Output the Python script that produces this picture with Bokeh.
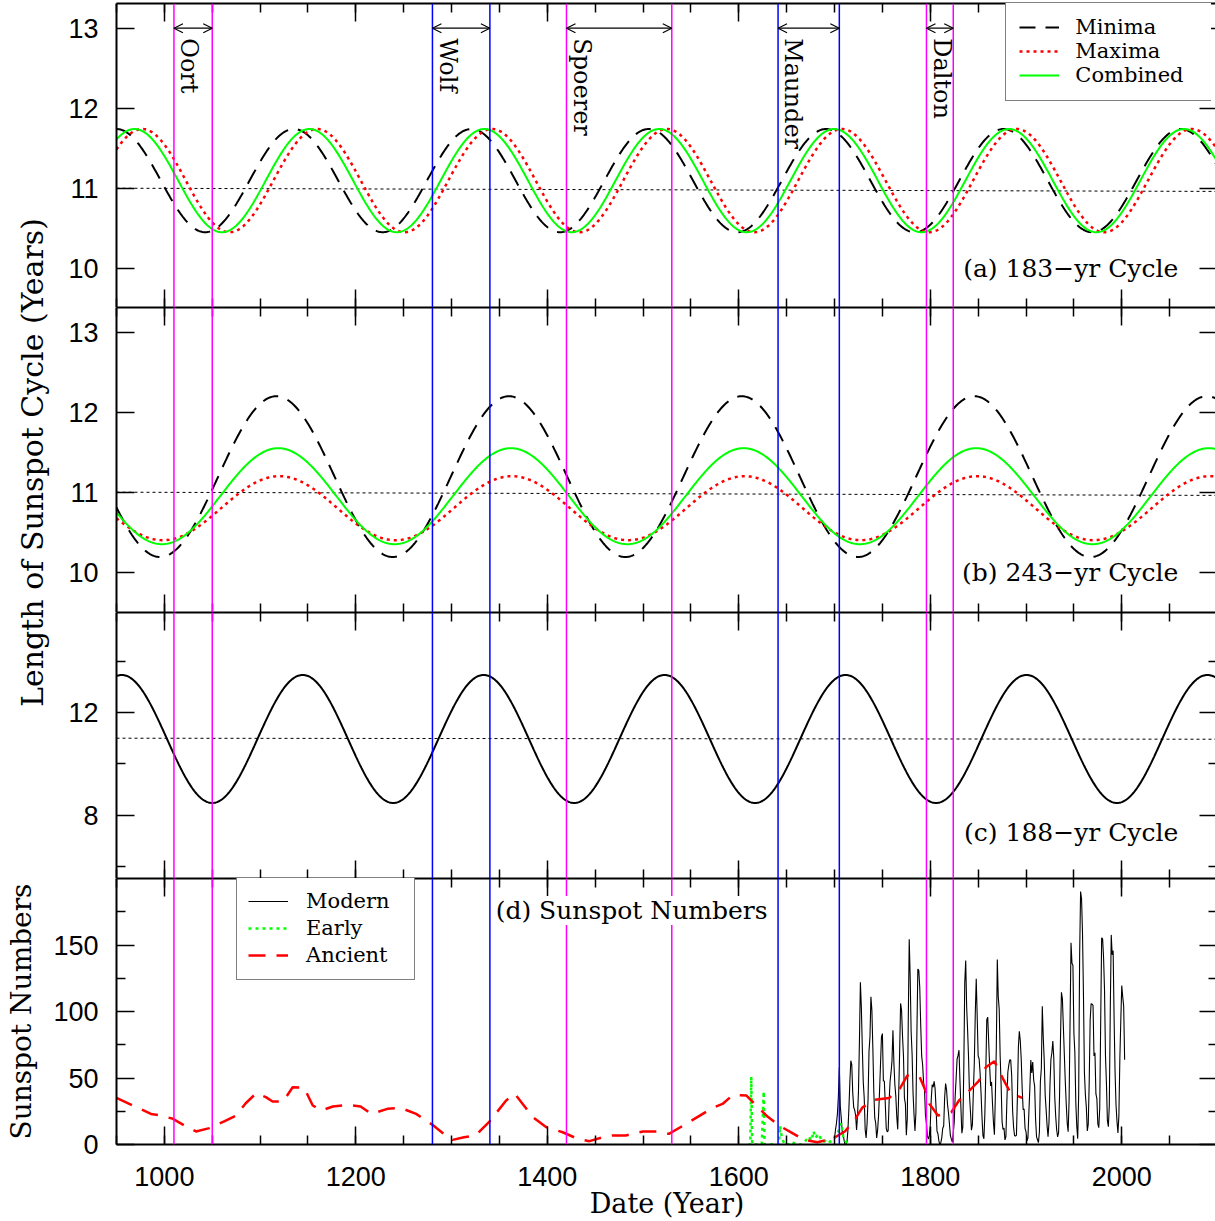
import numpy as np
from bokeh.plotting import figure
from bokeh.models import (Range1d, LinearAxis, SingleIntervalTicker, FixedTicker,
                          Span, Label, Legend, LegendItem, Arrow, OpenHead, ColumnDataSource)
from bokeh.layouts import row, column
from bokeh.embed import file_html
from bokeh.resources import INLINE

# ---------------- data ----------------
x_limits = [950, 2100]

minimum_names = ["Oort", "Wolf", "Spoerer", "Maunder", "Dalton"]
minimum_start = [1010, 1280, 1420, 1641, 1796]
minimum_end = [1050, 1340, 1530, 1705, 1824]

series_a_labels = ["Minima", "Maxima", "Combined"]
# sinusoid fits: period (yr), year of a peak, mean (yr), amplitude (yr)
cycle_a_period = [185.3, 182.7, 182.7]
cycle_a_peak = [950.0, 976.8, 968.8]
cycle_a_mean = [11.095, 11.095, 11.095]
cycle_a_amp = [0.645, 0.645, 0.645]

cycle_b_period = [243.0, 243.0, 243.0]
cycle_b_peak = [1117.0, 1120.0, 1119.0]
cycle_b_mean = [11.195, 10.80, 10.95]
cycle_b_amp = [1.005, 0.40, 0.60]

cycle_c_period = 189.0
cycle_c_peak = 955.5
cycle_c_mean = 10.97
cycle_c_amp = 2.5

mean_line_years = [950, 2100]
mean_line_values = [11.0, 10.96]

yticks_ab = [10, 11, 12, 13]
yticks_c = [8, 12]
yminor_c = [6, 10, 14]
yticks_d = [0, 50, 100, 150]
yminor_d = [25, 75, 125, 175]

series_d_labels = ["Modern", "Early", "Ancient"]

modern_first_year = 1700
modern_values = [
    5, 11, 16, 23, 36, 58, 29, 20, 10, 8, 3, 0, 0, 2, 11, 27, 47, 63, 60, 39,
    28, 26, 22, 11, 21, 40, 78, 122, 103, 73, 47, 35, 11, 5, 16, 34, 70, 81, 111, 101,
    73, 40, 20, 16, 5, 11, 22, 40, 60, 80.9, 83.4, 47.7, 47.8, 30.7, 12.2, 9.6, 10.2, 32.4, 47.6, 54.0,
    62.9, 85.9, 61.2, 45.1, 36.4, 20.9, 11.4, 37.8, 69.8, 106.1, 100.8, 81.6, 66.5, 34.8, 30.6, 7.0, 19.8, 92.5, 154.4, 125.9,
    84.8, 68.1, 38.5, 22.8, 10.2, 24.1, 82.9, 132.0, 130.9, 118.1, 89.9, 66.6, 60.0, 46.9, 41.0, 21.3, 16.0, 6.4, 4.1, 6.8,
    14.5, 34.0, 45.0, 43.1, 47.5, 42.2, 28.1, 10.1, 8.1, 2.5, 0.0, 1.4, 5.0, 12.2, 13.9, 35.4, 45.8, 41.1, 30.1, 23.9,
    15.6, 6.6, 4.0, 1.8, 8.5, 16.6, 36.3, 49.6, 64.2, 67.0, 70.9, 47.8, 27.5, 8.5, 13.2, 56.9, 121.5, 138.3, 103.2, 85.7,
    64.6, 36.7, 24.2, 10.7, 15.0, 40.1, 61.5, 98.5, 124.7, 96.3, 66.6, 64.5, 54.1, 39.0, 20.6, 6.7, 4.3, 22.7, 54.8, 93.8,
    95.8, 77.2, 59.1, 44.0, 47.0, 30.5, 16.3, 7.3, 37.6, 74.0, 139.0, 111.2, 101.6, 66.2, 44.7, 17.0, 11.3, 12.4, 3.4, 6.0,
    32.3, 54.3, 59.7, 63.7, 63.5, 52.2, 25.4, 13.1, 6.8, 6.3, 7.1, 35.6, 73.0, 85.1, 78.0, 64.0, 41.8, 26.2, 26.7, 12.1,
    9.5, 2.7, 5.0, 24.4, 42.0, 63.5, 53.8, 62.0, 48.5, 43.9, 18.6, 5.7, 3.6, 1.4, 9.6, 47.4, 57.1, 103.9, 80.6, 63.6,
    37.6, 26.1, 14.2, 5.8, 16.7, 44.3, 63.9, 69.0, 77.8, 64.9, 35.7, 21.2, 11.1, 5.7, 8.7, 36.1, 79.7, 114.4, 109.6, 88.8,
    67.8, 47.5, 30.6, 16.3, 9.6, 33.2, 92.6, 151.6, 136.3, 134.7, 83.9, 69.4, 31.5, 13.9, 4.4, 38.0, 141.7, 190.2, 184.8, 159.0,
    112.3, 53.9, 37.6, 27.9, 10.2, 15.1, 47.0, 93.8, 105.9, 105.5, 104.5, 66.6, 68.9, 38.0, 34.5, 15.5, 12.6, 27.5, 92.5, 155.4,
    154.6, 140.4, 115.9, 66.6, 45.9, 17.9, 13.4, 29.4, 100.2, 157.6, 142.6, 145.7, 94.3, 54.6, 29.9, 17.5, 8.6, 21.5, 64.3, 93.3,
    119.6, 111.0, 104.0, 63.7,
]
modern_years = list(range(modern_first_year, modern_first_year + len(modern_values)))

early_years = [1610, 1612, 1613, 1614, 1616, 1620, 1624, 1625, 1626, 1627, 1628, 1632, 1636,
               1640, 1642, 1643, 1645, 1648, 1652, 1655, 1660, 1665, 1670, 1673, 1676, 1678,
               1680, 1683, 1686, 1689, 1692, 1695, 1698, 1700, 1703, 1705, 1707, 1709, 1712, 1715]
early_values = [0, 0, 51, 0, 0, 0, 0, 20, 40, 0, 0, 0, 0,
                0, 0, 14, 5, 0, 0, 2, 0, 0, 3, 6, 3, 10,
                5, 8, 4, 2, 4, 2, 3, 5, 8, 12, 16, 6, 2, 0]

ancient_years = [950, 986, 995, 1009, 1021, 1033, 1047, 1063, 1075, 1085, 1096, 1106, 1113, 1124,
                 1134, 1146, 1155, 1164, 1176, 1193, 1205, 1216, 1233, 1247, 1263, 1280, 1296, 1301,
                 1313, 1325, 1339, 1357, 1366, 1385, 1399, 1416, 1432, 1444, 1458, 1468, 1482, 1500,
                 1515, 1527, 1545, 1572, 1583, 1594, 1608, 1620, 1630, 1642, 1656, 1668, 1682, 1698,
                 1711, 1721, 1729, 1741, 1757, 1768, 1776, 1789, 1795, 1799, 1808, 1822, 1830, 1841,
                 1851, 1858, 1867, 1869, 1876, 1884, 1896]
ancient_values = [35, 23, 22, 19.3, 14.3, 9.8, 12.3, 17.5, 21.8, 31, 38.6, 35.6, 32.3, 32.3,
                  43, 42.6, 29.3, 25.6, 28.6, 29.8, 28.6, 23, 26.8, 27.5, 23, 14.8, 5.5, 3.5,
                  5.5, 6.8, 16.8, 33.1, 38.1, 20.5, 13, 9.2, 4.2, 2.5, 5.5, 6.8, 6.8, 9.8,
                  9.8, 8, 15.5, 27.3, 30.5, 37.4, 36.8, 28, 21, 14.3, 8.5, 3.5, 1.7, 4.3,
                  10, 18.5, 27.7, 33.5, 35, 41.8, 51.8, 50.6, 40.6, 30.6, 21.8, 24.3, 33.1, 40.6,
                  48.1, 58.1, 62.6, 59.4, 49.4, 38.6, 35]

# ---------------- styling / layout ----------------
SERIF = "DejaVu Serif"
SANS = "Liberation Sans"
MAGENTA = "#ff00ff"
BLUE = "#0000ff"
GREEN = "#00ff00"
RED = "#ff0000"
minimum_colors = [MAGENTA, BLUE, MAGENTA, BLUE, MAGENTA]

STRIP_W = 50
LEFT_B = 64
FRAME_W = 1101
TOP_B = 3
H_A, H_B, H_C, H_D = 304, 305, 266, 266
TOTAL_H = 1219

grid_years = np.arange(x_limits[0], x_limits[1] + 1, 1.0)


def cycle_curve(period, peak, mean, amp):
    return mean + amp * np.cos(2 * np.pi * (grid_years - peak) / period)


def style_axis(ax):
    ax.axis_line_color = "black"
    ax.axis_line_width = 2
    ax.major_tick_in = 18
    ax.major_tick_out = 0
    ax.minor_tick_in = 9
    ax.minor_tick_out = 0
    ax.major_tick_line_color = "black"
    ax.minor_tick_line_color = "black"
    ax.major_tick_line_width = 1.5
    ax.minor_tick_line_width = 1.5


def hide_labels(ax):
    ax.major_label_text_font_size = "0px"
    ax.major_label_text_color = None
    ax.major_label_standoff = 0


def make_panel(yrange, frame_h, yticks, yminor, bottom=False, top_border=0):
    p = figure(frame_width=FRAME_W, frame_height=frame_h,
               x_range=Range1d(*x_limits), y_range=Range1d(*yrange),
               output_backend="svg", toolbar_location=None,
               x_axis_location=None, y_axis_location=None,
               min_border_left=LEFT_B, min_border_right=0,
               min_border_top=top_border, min_border_bottom=0)
    p.outline_line_color = None
    p.background_fill_color = "white"
    p.border_fill_color = "white"
    p.grid.visible = False
    xt = SingleIntervalTicker(interval=200, num_minor_ticks=4)
    yt = FixedTicker(ticks=yticks, minor_ticks=yminor)
    for loc in ["below", "above"]:
        ax = LinearAxis(ticker=xt)
        style_axis(ax)
        if loc == "below" and bottom:
            ax.major_label_text_font = SANS
            ax.major_label_text_font_size = "27px"
            ax.major_label_text_color = "black"
            ax.major_label_standoff = 22
            ax.axis_label = "Date (Year)"
            ax.axis_label_text_font = SERIF
            ax.axis_label_text_font_style = "normal"
            ax.axis_label_text_font_size = "27px"
            ax.axis_label_text_color = "black"
            ax.axis_label_standoff = -1
        else:
            hide_labels(ax)
        p.add_layout(ax, loc)
    for loc in ["left", "right"]:
        ax = LinearAxis(ticker=yt)
        style_axis(ax)
        if loc == "left":
            ax.major_label_text_font = SANS
            ax.major_label_text_font_size = "27px"
            ax.major_label_text_color = "black"
            ax.major_label_standoff = 18
        else:
            hide_labels(ax)
        p.add_layout(ax, loc)
    for yr, c in zip(minimum_start + minimum_end, minimum_colors + minimum_colors):
        p.add_layout(Span(location=yr, dimension="height", line_color=c, line_width=1.5))
    return p


def mean_line(p):
    p.line(mean_line_years, mean_line_values, line_color="black", line_width=1, line_dash="3 3")


def panel_label(p, x, y, text, align="right", bg=None):
    lab = Label(x=x, y=y, text=text, text_align=align, text_baseline="middle",
                text_font=SERIF, text_font_size="25px", text_color="black")
    if bg:
        lab.background_fill_color = bg
    p.add_layout(lab)


def cycle_legend(p, renderers, labels, **kw):
    items = [LegendItem(label=l, renderers=[r]) for l, r in zip(labels, renderers)]
    lg = Legend(items=items, **kw)
    lg.label_text_font = SERIF
    lg.label_text_font_size = "21px"
    lg.label_text_color = "black"
    lg.border_line_color = "black"
    lg.border_line_width = 1.5
    lg.background_fill_color = "white"
    lg.background_fill_alpha = 1.0
    lg.glyph_width = 40
    p.add_layout(lg)
    return lg


styles_abc = [dict(line_color="black", line_width=2, line_dash="16 10"),
              dict(line_color=RED, line_width=2.5, line_dash="3 4"),
              dict(line_color=GREEN, line_width=2)]

# ---- panel (a)
pa = make_panel((9.509, 13.309), H_A, yticks_ab, [], top_border=TOP_B)
mean_line(pa)
ra = []
for i in range(3):
    ra.append(pa.line(grid_years, cycle_curve(cycle_a_period[i], cycle_a_peak[i],
                                              cycle_a_mean[i], cycle_a_amp[i]), **styles_abc[i]))
arrow_level = 13.0
src_min = ColumnDataSource(dict(x0=minimum_start, x1=minimum_end,
                                y=[arrow_level] * len(minimum_start)))
pa.add_layout(Arrow(start=OpenHead(size=9, line_width=1.2), end=OpenHead(size=9, line_width=1.2),
                    x_start="x0", y_start="y", x_end="x1", y_end="y", source=src_min,
                    line_width=1.2, line_color="black"))
NAME_DX = 16.0    # years to the right of the start line
NAME_DY = 0.125   # below the arrow (about 10 px)
for name, x0 in zip(minimum_names, minimum_start):
    pa.add_layout(Label(x=x0 + NAME_DX, y=arrow_level - NAME_DY, text=name, angle=-np.pi / 2,
                        text_align="left", text_baseline="alphabetic",
                        text_font=SERIF, text_font_size="24px", text_color="black"))
cycle_legend(pa, ra, series_a_labels, location=(900, 206), margin=0, padding=13, spacing=0,
             label_height=24, glyph_height=24, label_width=127, label_standoff=16)
panel_label(pa, 2059, 10.0, "(a) 183\u2212yr Cycle")

# ---- panel (b)
pb = make_panel((9.496, 13.309), H_B, yticks_ab, [])
mean_line(pb)
for i in range(3):
    pb.line(grid_years, cycle_curve(cycle_b_period[i], cycle_b_peak[i],
                                    cycle_b_mean[i], cycle_b_amp[i]), **styles_abc[i])
panel_label(pb, 2059, 10.0, "(b) 243\u2212yr Cycle")

# ---- panel (c)
pc = make_panel((5.52, 15.91), H_C, yticks_c, yminor_c)
mean_line(pc)
pc.line(grid_years, cycle_curve(cycle_c_period, cycle_c_peak, cycle_c_mean, cycle_c_amp),
        line_color="black", line_width=2)
panel_label(pc, 2059, 7.3, "(c) 188\u2212yr Cycle")

# ---- panel (d)
pd_ = make_panel((0, 200), H_D, yticks_d, yminor_d, bottom=True)
r_mod = pd_.line(modern_years, modern_values, line_color="black", line_width=1.1)
r_early = pd_.line(early_years, early_values, line_color=GREEN, line_width=2.5, line_dash="3 4")
r_anc = pd_.line(ancient_years, ancient_values, line_color=RED, line_width=2.5, line_dash="17 11")
cycle_legend(pd_, [r_mod, r_early, r_anc], series_d_labels, location=(120, 164), margin=0,
             padding=11, spacing=1, label_height=26, glyph_height=26, label_width=97,
             label_standoff=18)
panel_label(pd_, 1346, 176, "(d) Sunspot Numbers", align="left", bg="white")

# ---- left strip carrying the y titles
lf = figure(width=STRIP_W, height=TOTAL_H, x_range=Range1d(0, STRIP_W),
            y_range=Range1d(TOTAL_H, 0), output_backend="svg", toolbar_location=None,
            min_border=0, x_axis_location=None, y_axis_location=None)
lf.outline_line_color = None
lf.grid.visible = False
lf.add_layout(Label(x=32.4, y=462, text="Length of Sunspot Cycle (Years)", angle=np.pi / 2,
                    text_align="center", text_baseline="middle", text_font=SERIF,
                    text_font_size="30px", text_color="black"))
lf.add_layout(Label(x=21, y=1011, text="Sunspot Numbers", angle=np.pi / 2,
                    text_align="center", text_baseline="middle", text_font=SERIF,
                    text_font_size="28px", text_color="black"))

layout = row(lf, column(pa, pb, pc, pd_, spacing=0), spacing=0)

open("out.html", "w").write(file_html(layout, INLINE))
